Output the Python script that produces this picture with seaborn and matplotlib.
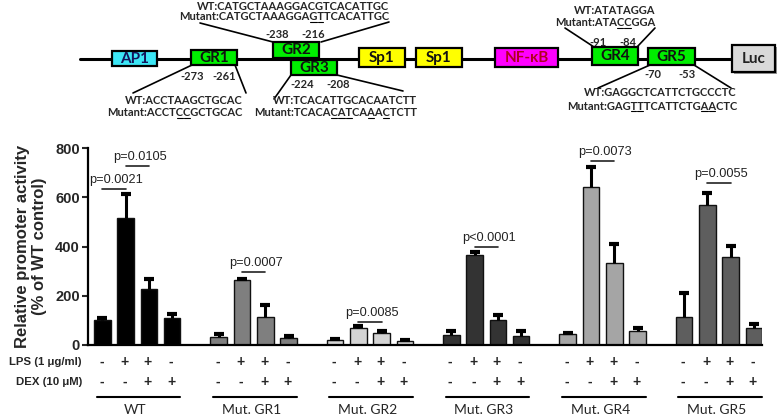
import numpy as np
import pandas as pd
import matplotlib
matplotlib.use('Agg')
import matplotlib.pyplot as plt
import matplotlib.transforms as mtransforms
from matplotlib.patches import Rectangle
import seaborn as sns

# ---- bar chart data ----
groups = ['WT', 'Mut. GR1', 'Mut. GR2', 'Mut. GR3', 'Mut. GR4', 'Mut. GR5']
lps = ['-', '+', '+', '-']
dex = ['-', '-', '+', '+']
wt_mean = [100, 515, 228, 110]
gr1_mean = [33, 262, 113, 28]
gr2_mean = [20, 71, 47, 16]
gr3_mean = [40, 365, 100, 38]
gr4_mean = [44, 643, 335, 57]
gr5_mean = [115, 567, 358, 71]
wt_err = [9, 98, 40, 15]
gr1_err = [12, 6, 49, 8]
gr2_err = [4, 6, 9, 4]
gr3_err = [16, 12, 20, 18]
gr4_err = [4, 80, 76, 12]
gr5_err = [96, 50, 44, 15]
bar_colors = ['#000000', '#7f7f7f', '#d4d4d4', '#333333', '#a5a5a5', '#5e5e5e']

# significance brackets: label, group, bar pair, height
p_labels = ['p=0.0021', 'p=0.0105', 'p=0.0007', 'p=0.0085', 'p<0.0001', 'p=0.0073', 'p=0.0055']
p_groups = [0, 0, 1, 2, 3, 4, 5]
p_pairs = [(0, 1), (1, 2), (1, 2), (1, 2), (1, 2), (1, 2), (1, 2)]
p_heights = [633, 727, 297, 94, 398, 747, 658]

# ---- promoter diagram ----
elements = ['AP1', 'GR1', 'GR2', 'GR3', 'Sp1', 'Sp1', 'NF-\u03baB', 'GR4', 'GR5', 'Luc']
element_colors = ['#3ce6f5', '#00ee00', '#00ee00', '#00ee00', '#ffff00', '#ffff00',
                  '#ff00ff', '#00ee00', '#00ee00', '#d9d9d9']
element_text_colors = ['#14145a', '#111111', '#111111', '#111111', '#111111', '#111111',
                       '#b00020', '#111111', '#111111', '#222222']
site_names = ['GR1', 'GR2', 'GR3', 'GR4', 'GR5']
site_coords = [('-273', '-261'), ('-238', '-216'), ('-224', '-208'), ('-91', '-84'), ('-70', '-53')]
wt_seqs = ['ACCTAAGCTGCAC', 'CATGCTAAAGGACGTCACATTGC', 'TCACATTGCACAATCTT',
           'ATATAGGA', 'GAGGCTCATTCTGCCCTC']
mut_seqs = ['ACCTCCGCTGCAC', 'CATGCTAAAGGAGTTCACATTGC', 'TCACACATCAAACTCTT',
            'ATACCGGA', 'GAGTTTCATTCTGAACTC']

sns.set_style('white')
plt.rcParams['font.family'] = ['Liberation Sans', 'DejaVu Sans']

fig = plt.figure(figsize=(7.78, 4.18), dpi=100)
over = fig.add_axes([0, 0, 1, 1])
over.set_xlim(0, 778)
over.set_ylim(418, 0)
over.axis('off')
over.patch.set_visible(False)

ax = fig.add_axes([88 / 778, 1 - 345 / 418, (762 - 88) / 778, 197 / 418])
ax.patch.set_visible(False)

means = [wt_mean, gr1_mean, gr2_mean, gr3_mean, gr4_mean, gr5_mean]
errs = [wt_err, gr1_err, gr2_err, gr3_err, gr4_err, gr5_err]
rows = []
for g, name in enumerate(groups):
    for j in range(4):
        rows.append({'x': 5 * g + j, 'value': means[g][j], 'err': errs[g][j], 'group': name})
df = pd.DataFrame(rows)

sns.barplot(data=df, x='x', y='value', hue='group', palette=dict(zip(groups, bar_colors)),
            native_scale=True, dodge=False, width=0.71, errorbar=None, legend=False,
            edgecolor='#111111', linewidth=1.0, ax=ax)

top = df['value'] + df['err']
ax.vlines(df['x'], df['value'], top, color='black', lw=2.2, zorder=3)
ax.plot(df['x'], top, ls='none', marker='_', ms=7, mew=3, color='black', zorder=3)

for lab, g, (a, b), h in zip(p_labels, p_groups, p_pairs, p_heights):
    xa, xb = 5 * g + a, 5 * g + b
    ax.plot([xa, xb], [h, h], color='#222222', lw=1.2, clip_on=False)
    ax.text((xa + xb) / 2 + 0.1, h + 12, lab, ha='center', va='bottom', fontsize=9.2,
            color='#222222', clip_on=False)

ax.set_xlim(-0.62, 28.35)
ax.set_ylim(0, 800)
ax.set_yticks([0, 200, 400, 600, 800])
ax.set_yticklabels(['0', '200', '400', '600', '800'], fontsize=10.5, fontweight='bold')
ax.set_xticks([])
ax.set_xlabel('')
ax.set_ylabel('Relative promoter activity\n(% of WT control)', fontsize=12, fontweight='bold',
              labelpad=6, linespacing=1.15)
ax.tick_params(axis='y', length=4, width=1.5, direction='out', pad=2, left=True)
for side in ['top', 'right']:
    ax.spines[side].set_visible(False)
for side in ['left', 'bottom']:
    ax.spines[side].set_linewidth(1.6)
    ax.spines[side].set_color('black')

# treatment rows and group labels under the axis
blend = mtransforms.blended_transform_factory(ax.transData, over.transData)
over.text(82, 362, 'LPS (1 \u03bcg/ml)', ha='right', va='center', fontsize=8.2, fontweight='bold')
over.text(82, 382, 'DEX (10 \u03bcM)', ha='right', va='center', fontsize=8.2, fontweight='bold')
for g, name in enumerate(groups):
    for j in range(4):
        ax.text(5 * g + j - 0.05, 362, lps[j], transform=blend, ha='center', va='center',
                fontsize=10, fontweight='bold', clip_on=False)
        ax.text(5 * g + j - 0.05, 382, dex[j], transform=blend, ha='center', va='center',
                fontsize=10, fontweight='bold', clip_on=False)
    ax.plot([5 * g - 0.25, 5 * g + 3.35], [397, 397], transform=blend, color='black',
            lw=1.5, clip_on=False)
    ax.text(5 * g + 1.4, 410, name, transform=blend, ha='center', va='center',
            fontsize=10, family=['Lato', 'DejaVu Sans'], clip_on=False)

# ---- promoter diagram drawing ----
box_x = [(112, 157), (191, 237), (273, 319), (291, 337), (359, 405), (416, 462),
         (495, 558), (592, 638), (648, 695), (732, 775)]
box_y = [(51, 66), (50, 65), (42, 58), (60, 75), (48, 67), (48, 67),
         (48, 67), (47, 65), (48, 65), (45, 72)]
over.plot([80, 732], [59, 59], color='black', lw=2.2, zorder=1)
for k, name in enumerate(elements):
    x0, x1 = box_x[k]
    y0, y1 = box_y[k]
    if name == 'Luc':
        over.add_patch(Rectangle((x0 + 2, y0 + 2), x1 - x0, y1 - y0, facecolor='#9a9a9a',
                                 edgecolor='none', zorder=1.5))
    over.add_patch(Rectangle((x0, y0), x1 - x0, y1 - y0, facecolor=element_colors[k],
                             edgecolor='black', lw=1.6, zorder=2))
    over.text((x0 + x1) / 2, (y0 + y1) / 2 + 0.5, name, ha='center', va='center',
              fontsize=11, fontweight='bold', color=element_text_colors[k],
              family=['Lato', 'DejaVu Sans'], zorder=3)

coord_pos = [((192, 76), (224, 76)), ((277, 34), (313, 34)), ((302, 85), (338, 85)),
             ((598, 42), (628, 42)), ((653, 74), (687, 74))]
leaders = [[((192, 65), (133, 93)), ((235, 65), (246, 93))],
           [((200, 23), (273, 42)), ((389, 22), (321, 42))],
           [((291, 75), (274, 99)), ((337, 75), (403, 91))],
           [((565, 28), (594, 47)), ((655, 28), (637, 47))],
           [((650, 65), (598, 88)), ((694, 65), (731, 88))]]
seq_pos = [(243, 100, 113), (389, 6, 17), (417, 100, 113), (655, 10, 23), (737, 93, 106)]

seq_font = dict(fontsize=8.0, fontweight='bold', family=['Lato', 'DejaVu Sans'])
mut_texts = []
for k in range(len(site_names)):
    for (cx, cy), lab in zip(coord_pos[k], site_coords[k]):
        over.text(cx, cy, lab, ha='center', va='center', **seq_font)
    for p0, p1 in leaders[k]:
        over.plot([p0[0], p1[0]], [p0[1], p1[1]], color='black', lw=1.2)
    xr, yw, ym = seq_pos[k]
    over.text(xr, yw, 'WT:' + wt_seqs[k], ha='right', va='center', **seq_font)
    t = over.text(xr, ym, 'Mutant:' + mut_seqs[k], ha='right', va='center', **seq_font)
    mut_texts.append((t, wt_seqs[k], mut_seqs[k]))

# underline the mutated bases
fig.canvas.draw()
renderer = fig.canvas.get_renderer()
inv = over.transData.inverted()
for t, wseq, mseq in mut_texts:
    bb = t.get_window_extent(renderer)
    prop = t.get_fontproperties()

    def width(s):
        return renderer.get_text_width_height_descent(s, prop, ismath=False)[0]

    for i, (a, b) in enumerate(zip(wseq, mseq)):
        if a != b:
            xa = bb.x0 + width('Mutant:' + mseq[:i])
            xb = bb.x0 + width('Mutant:' + mseq[:i + 1])
            (pa, ya), (pb, _) = inv.transform([(xa, bb.y0 + 1), (xb, bb.y0 + 1)])
            over.plot([pa + 0.5, pb - 0.5], [ya, ya], color='black', lw=0.8)

fig.savefig('out.png', dpi=100)
